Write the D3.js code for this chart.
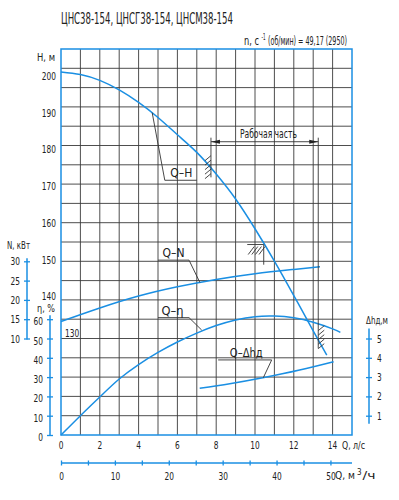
<!DOCTYPE html>
<html>
<head>
<meta charset="utf-8">
<script src="https://cdn.jsdelivr.net/npm/d3@7"></script>
<style>
  body { margin: 0; background: #fff; }
  text { font-family: "Liberation Sans Narrow", "DejaVu Sans Condensed", sans-serif; fill: #222; }
</style>
</head>
<body>
<div id="chart"></div>
<script>
// ---------------- data ----------------
var qHead = [0, 1, 2, 3, 4, 5, 6, 7, 8, 9, 10, 11, 12, 13, 13.7];
var head  = [201.1, 200.4, 198.8, 196.2, 192.8, 188.7, 184.0, 179.2, 173.3, 166.5, 158.4, 149.6, 140.2, 130.6, 124.0];

var qPower = [0, 2, 4, 6, 8, 10, 12, 13.35];
var power  = [14.4, 17.9, 21.0, 23.4, 25.3, 26.8, 27.9, 28.6];

var qEff = [0, 1, 2, 3, 4, 5, 6, 7, 8, 9, 10, 11, 12, 13, 14, 14.4];
var eff  = [0, 10, 19.7, 29.0, 36.5, 42.8, 48.2, 52.8, 56.7, 59.6, 61.3, 61.6, 60.7, 58.4, 55.0, 53.2];

var qNpsh = [7.15, 8.7, 10.4, 12.3, 14.05];
var npsh  = [2.42, 2.66, 2.97, 3.37, 3.80];

// tick labels
var qTicks     = [0, 2, 4, 6, 8, 10, 12, 14];
var qm3Ticks   = [0, 10, 20, 30, 40, 50];
var qm3Minor   = [0, 5, 10, 15, 20, 25, 30, 35, 40, 45, 50];
var headTicks  = [200, 190, 180, 170, 160, 150, 140, 130];
var powerTicks = [10, 15, 20, 25, 30];
var effTicks   = [0, 10, 20, 30, 40, 50, 60];
var npshTicks  = [1, 2, 3, 4, 5];

var blue = "#1a8fe3", ink = "#222";

var svg = d3.select("#chart").append("svg")
    .attr("width", 399)
    .attr("height", 500);

// scales: 15 columns of 1 l/s, 20 rows
var x    = d3.scaleLinear().domain([0, 15]).range([61, 352]);
var xm3  = d3.scaleLinear().domain([0, 54]).range([61, 352]);
var rows = d3.scaleLinear().domain([0, 20]).range([435, 49]);
var yH   = d3.scaleLinear().domain([130, 200]).range([333, 76]);
var yN   = d3.scaleLinear().domain([10, 30]).range([rows(5), rows(9)]);
var yEta = d3.scaleLinear().domain([0, 60]).range([rows(0), rows(6)]);
var yDh  = d3.scaleLinear().domain([0, 5]).range([rows(0), rows(5)]);

// grid
svg.append("g").selectAll("line").data(d3.range(1, 15)).join("line")
    .attr("x1", d => x(d)).attr("x2", d => x(d))
    .attr("y1", rows(0)).attr("y2", rows(20))
    .attr("stroke", "#3a3a3a").attr("stroke-width", 0.9);
svg.append("g").selectAll("line").data(d3.range(1, 20)).join("line")
    .attr("y1", d => rows(d)).attr("y2", d => rows(d))
    .attr("x1", x(0)).attr("x2", x(15))
    .attr("stroke", "#3a3a3a").attr("stroke-width", 0.9);

// frame
svg.append("rect")
    .attr("x", x(0)).attr("y", rows(20))
    .attr("width", x(15) - x(0)).attr("height", rows(0) - rows(20))
    .attr("fill", "none").attr("stroke", blue).attr("stroke-width", 1.5);

// curves
function curve(qs, vs, ys) {
  var line = d3.line().x(d => x(d[0])).y(d => ys(d[1])).curve(d3.curveNatural);
  svg.append("path")
      .datum(d3.zip(qs, vs))
      .attr("d", line)
      .attr("fill", "none").attr("stroke", blue).attr("stroke-width", 1.5);
}
curve(qHead, head, yH);
curve(qPower, power, yN);
curve(qEff, eff, yEta);
curve(qNpsh, npsh, yDh);

// narrow digits like the drawing font
function squeeze(sel, k) {
  sel.each(function() {
    var t = d3.select(this), x0 = +t.attr("x") || 0;
    t.attr("transform", "translate(" + x0 + ",0) scale(" + k + ",1) translate(" + (-x0) + ",0)");
  });
}

// ---- axes ----
function crossAxis(axis, tx, ty) {
  var g = svg.append("g").attr("transform", "translate(" + tx + "," + ty + ")").call(axis);
  g.select(".domain").attr("stroke", blue).attr("stroke-width", 1.5);
  g.selectAll(".tick line").attr("stroke", blue).attr("stroke-width", 1.3);
  g.selectAll("text").attr("fill", ink).style("font-size", "11px").style("font-family", null);
  squeeze(g.selectAll("text"), 0.75);
  return g;
}

// N, kW
var gN = crossAxis(d3.axisLeft(yN).tickValues(powerTicks).tickSize(3).tickSizeOuter(0).tickPadding(4), 27, 0);
gN.selectAll(".tick line").attr("x1", 3);
gN.select(".domain").attr("d", "M0," + (yN(30) - 3) + "V" + (yN(10) + 1));

// eta, %
var gE = crossAxis(d3.axisLeft(yEta).tickValues(effTicks).tickSize(3).tickSizeOuter(0).tickPadding(4), 50, 0);
gE.selectAll(".tick line").attr("x1", 3);
gE.selectAll(".tick text").attr("dy", "0.5em");
gE.select(".domain").attr("d", "M0," + (yEta(60) - 4) + "V" + yEta(0));

// delta h
var gD = crossAxis(d3.axisRight(yDh).tickValues(npshTicks).tickFormat(d3.format("d"))
    .tickSize(3).tickSizeOuter(0).tickPadding(5), 369, 0);
gD.selectAll(".tick line").attr("x1", -3);
gD.select(".domain").attr("d", "M0," + (yDh(5) - 10) + "V" + (yDh(1) + 8));

// Q m3/h
var gM = crossAxis(d3.axisBottom(xm3).tickValues(qm3Minor).tickSize(2.5).tickSizeOuter(0).tickPadding(7), 0, 463);
gM.selectAll(".tick line").attr("y1", -2.5);
gM.select(".domain").attr("d", "M" + x(0) + ",0H" + x(15));
gM.selectAll(".tick text").text(d => qm3Ticks.indexOf(d) >= 0 ? d : "");

// Q l/s labels
var qLab = svg.append("g").selectAll("text").data(qTicks).join("text")
    .attr("x", d => x(d)).attr("y", 449)
    .attr("text-anchor", "middle").style("font-size", "11px")
    .text(d => d);
squeeze(qLab, 0.75);

// H labels
var hLab = svg.append("g").selectAll("text").data(headTicks).join("text")
    .attr("x", d => d === 130 ? 65 : 56)
    .attr("y", d => yH(d) + 4)
    .attr("text-anchor", d => d === 130 ? "start" : "end")
    .style("font-size", "11px")
    .text(d => d);
squeeze(hLab, 0.75);

// ---- titles ----
function label(txt, px, py, anchor, size, len) {
  var t = svg.append("text").attr("x", px).attr("y", py)
      .attr("text-anchor", anchor || "start")
      .style("font-size", (size || 11) + "px").text(txt);
  if (len) t.attr("textLength", len).attr("lengthAdjust", "spacingAndGlyphs");
  return t;
}
label("ЦНС38-154, ЦНСГ38-154, ЦНСМ38-154", 61, 24, "start", 15, 172);

// speed line: one text, superscript as tspan
var sub = svg.append("text").attr("y", 45).style("font-size", "11.5px");
sub.append("tspan").attr("x", 244).attr("textLength", 15).attr("lengthAdjust", "spacingAndGlyphs").text("n, с");
sub.append("tspan").attr("x", 261.5).attr("dy", -5).style("font-size", "8px")
    .attr("textLength", 4).attr("lengthAdjust", "spacingAndGlyphs").text("-1");
sub.append("tspan").attr("x", 268).attr("dy", 5)
    .attr("textLength", 79).attr("lengthAdjust", "spacingAndGlyphs").text("(об/мин) = 49,17 (2950)");

label("H, м", 37, 61, "start", 11, 18);
label("N, кВт", 7, 249, "start", 11, 23);
label("η, %", 37, 312, "start", 11, 18);
label("Δhд,м", 366, 324, "start", 11, 22);
label("Q, л/с", 342, 449, "start", 11, 23);
var qm = svg.append("text").attr("y", 479).style("font-size", "11px");
qm.append("tspan").attr("x", 335).attr("textLength", 20).attr("lengthAdjust", "spacingAndGlyphs").text("Q, м");
qm.append("tspan").attr("x", 357).attr("dy", -4).style("font-size", "8px").text("3");
qm.append("tspan").attr("x", 362.5).attr("dy", 4).attr("textLength", 13).attr("lengthAdjust", "spacingAndGlyphs").text("/ч");

// ---- curve annotations (placed in data units) ----
function leader(pts) {
  svg.append("path")
      .attr("d", d3.line()(pts))
      .attr("fill", "none").attr("stroke", "#333").attr("stroke-width", 0.9);
}
// Q-H
leader([[x(4.7), yH(190)], [x(5.35), yH(171.6)], [x(7.0), yH(171.6)]]);
label("Q–H", x(6.2), yH(171.6) - 3, "middle", 13, 22);
// Q-N
leader([[x(5.0), yN(30.3)], [x(6.6), yN(30.3)], [x(7.16), yN(24.5)]]);
label("Q–N", x(5.8), yN(30.3) - 3, "middle", 13, 22);
// Q-eta
leader([[x(5.0), yEta(60.8)], [x(6.6), yEta(60.8)], [x(7.25), yEta(54.4)]]);
label("Q–η", x(5.75), yEta(60.8) - 3, "middle", 13, 22);
// Q-dh
leader([[x(8.1), yDh(3.89)], [x(10.86), yDh(3.89)], [x(10.43), yDh(2.97)]]);
label("Q–Δhд", x(9.55), yDh(3.89) - 3, "middle", 13, 33);

// working part bracket
var qL = 7.73, qR = 13.26, yB = yH(182.1);
leader([[x(qL), yH(183.2)], [x(qL), yH(172.4)]]);
leader([[x(qR), yH(183.2)], [x(qR), yH(125.8)]]);
leader([[x(qL), yB], [x(qR), yB]]);
svg.append("path")
    .attr("d", "M" + x(qL) + "," + yB + "l9,-2v4z" + "M" + x(qR) + "," + yB + "l-9,-2v4z")
    .attr("fill", "#222");
label("Рабочая часть", x(10.69), yH(183.2), "middle", 12, 57);

function hatch(px, y0, y1, side) {
  var ys = d3.range(y0, y1, 4.5);
  svg.append("g").selectAll("line").data(ys).join("line")
      .attr("x1", side < 0 ? px - 6 : px).attr("y1", d => d + 5)
      .attr("x2", side < 0 ? px : px + 6).attr("y2", d => d)
      .attr("stroke", "#333").attr("stroke-width", 0.9);
}
hatch(x(qL), yH(178.3), yH(172.6), -1);
hatch(x(qR), yH(132), yH(126.5), 1);

// best efficiency corner mark
var qB = 10.45, hB = 154.1, yb = yH(hB);
leader([[x(9.6), yb], [x(qB), yb], [x(qB), yH(148.6)]]);
svg.append("g").selectAll("line").data(d3.range(x(9.65), x(qB) - 2, 3.6)).join("line")
    .attr("x1", d => d).attr("y1", yb + 10)
    .attr("x2", d => d + 6).attr("y2", yb + 2)
    .attr("stroke", "#333").attr("stroke-width", 0.9);
</script>
</body>
</html>
